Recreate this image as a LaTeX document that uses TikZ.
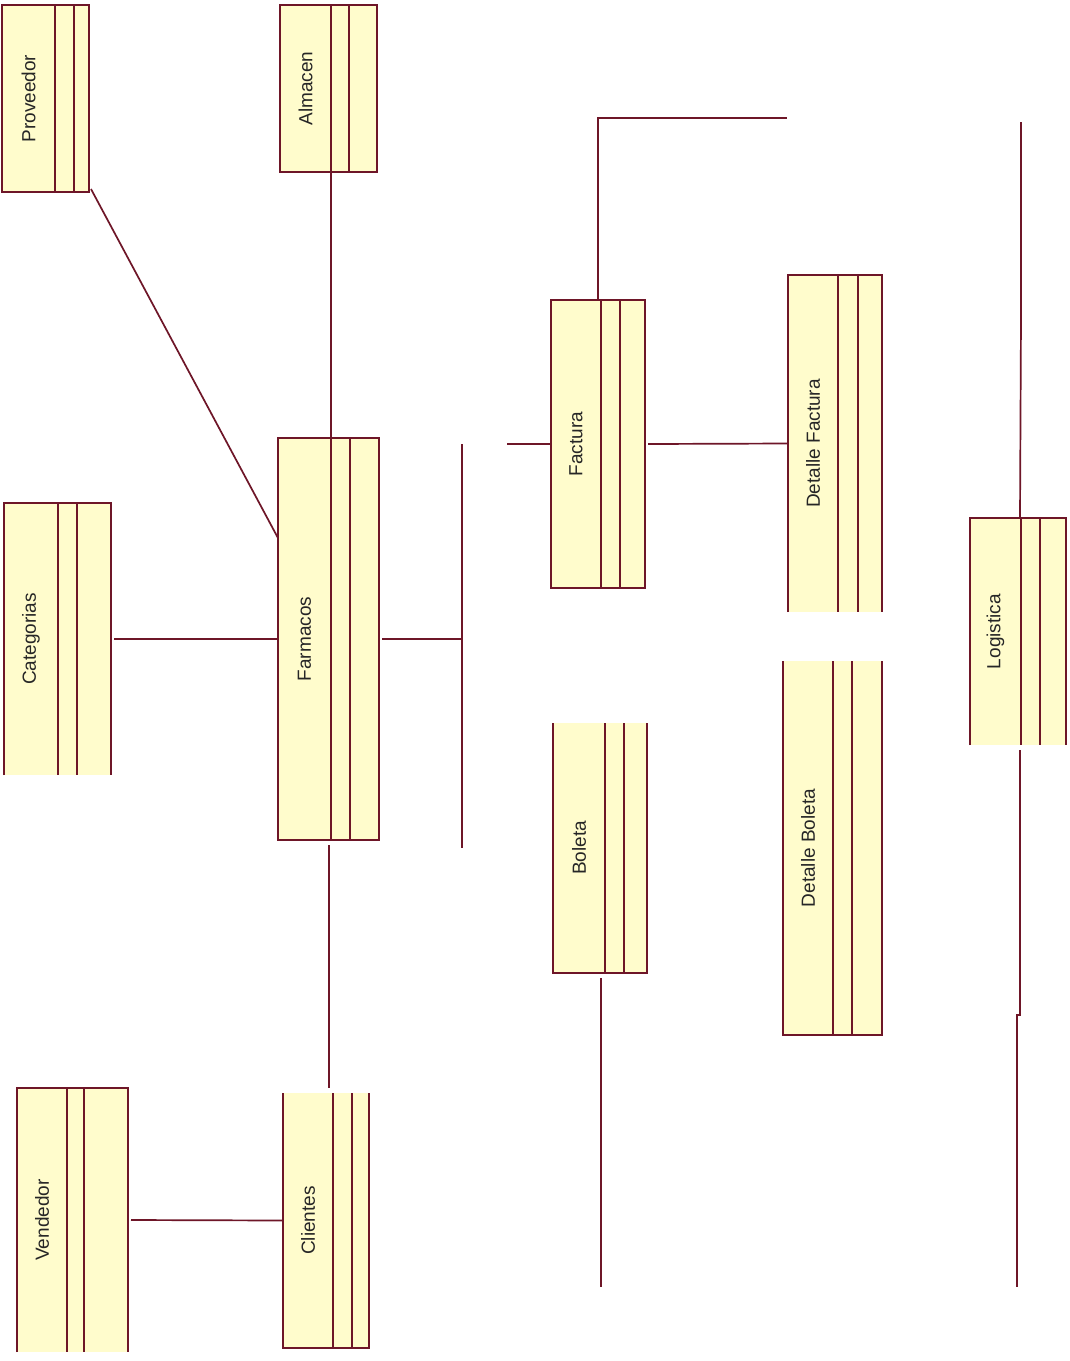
\documentclass[tikz,border=0pt]{standalone}
\usepackage{fontspec}
\setmainfont{Liberation Sans}
\usetikzlibrary{calc}
\definecolor{clsfill}{RGB}{255,252,204}
\definecolor{clsline}{RGB}{110,22,40}
\tikzset{
  cl/.style={draw=clsline, line width=1.7pt},
  clsbody/.style={fill=clsfill, draw=none, inner sep=0pt, outer sep=0pt},
  lbl/.style={rotate=90, inner sep=0pt, font=\fontsize{19}{19}\selectfont, text=black!85}
}
% name, x1, y1, x2, y2, inner offset 1, inner offset 2, label
\newcommand\clsnode[8]{%
  \node[clsbody, minimum width={#4pt-#2pt}, minimum height={#5pt-#3pt}] (#1) at ({(#2+#4)/2},{(#3+#5)/2}) {};
  \draw[cl] ([xshift=#6pt]#1.north west) -- ([xshift=#6pt]#1.south west);
  \draw[cl] ([xshift=#7pt]#1.north west) -- ([xshift=#7pt]#1.south west);
  \node[lbl] (#1-t) at ({(#2+#2+#6)/2},{(#3+#5)/2}) {#8};
}
\begin{document}
\begin{tikzpicture}[x=1pt,y=-1pt]
\fill[white] (0,0) rectangle (1069,1361);
\useasboundingbox (0,0) rectangle (1069,1361);

% classes
\clsnode{prov}{2}{5}{89}{192}{53}{72}{Proveedor}
\draw[cl] (prov.north west) rectangle (prov.south east);
\clsnode{alm}{280}{5}{377}{172}{51}{69}{Almacen}
\draw[cl] (alm.north west) rectangle (alm.south east);
\clsnode{cat}{4}{503}{111}{775}{54}{73}{Categorias}
\draw[cl] (cat.south west) -- (cat.north west) -- (cat.north east) -- (cat.south east);
\clsnode{farm}{278}{438}{379}{840}{53}{72}{Farmacos}
\draw[cl] (farm.north west) rectangle (farm.south east);
\clsnode{ven}{17}{1088}{128}{1352}{50}{67}{Vendedor}
\draw[cl] (ven.south west) -- (ven.north west) -- (ven.north east) -- (ven.south east);
\clsnode{cli}{283}{1093}{369}{1348}{50}{69}{Clientes}
\draw[cl] (cli.north west) -- (cli.south west) -- (cli.south east) -- (cli.north east);
\clsnode{fac}{551}{300}{645}{588}{50}{69}{Factura}
\draw[cl] (fac.north west) rectangle (fac.south east);
\clsnode{dfac}{788}{275}{882}{612}{50}{70}{Detalle Factura}
\draw[cl] (dfac.south west) -- (dfac.north west) -- (dfac.north east) -- (dfac.south east);
\clsnode{bol}{553}{723}{647}{973}{52}{71}{Boleta}
\draw[cl] (bol.north west) -- (bol.south west) -- (bol.south east) -- (bol.north east);
\clsnode{dbol}{783}{661}{882}{1035}{50}{69}{Detalle Boleta}
\draw[cl] (dbol.north west) -- (dbol.south west) -- (dbol.south east) -- (dbol.north east);
\clsnode{log}{970}{518}{1066}{745}{51}{70}{Logistica}
\draw[cl] (log.south west) -- (log.north west) -- (log.north east) -- (log.south east);

% free ends
\coordinate (fj) at (462,639);
\coordinate (fjt) at (462,444);
\coordinate (fjb) at (462,848);
\coordinate (facl) at (507,444);
\coordinate (fact) at (787,118);
\coordinate (bolb) at (601,1287);
\coordinate (logt) at (1021,122);
\coordinate (logtm) at (1021,318);
\coordinate (logbm) at (1020,1015);
\coordinate (logb) at (1017,1287);
\coordinate (clij) at (329,0);

% connectors
\draw[cl] ([shift={(2pt,3pt)}]prov.south east) -- ($(farm.north west)+(0,100)$);
\draw[cl] ([xshift=51pt]alm.south west) -- ([xshift=51pt]alm.south west |- farm.north);
\draw[cl] ([xshift=3pt]cat.east) -- (farm.west);
\draw[cl] ([xshift=3pt]farm.east) -- (fj);
\draw[cl] (fjt) -- (fjb);
\draw[cl] ([yshift=-5pt]farm.south -| clij) -- ([yshift=5pt]cli.north -| clij);
\draw[cl] ([xshift=3pt]ven.east) -- (cli.west);
\draw[cl] (facl) -- (fac.west);
\draw[cl] (fac.north -| 598,0) |- (fact);
\draw[cl] ([xshift=3pt]fac.east) -- (dfac.west);
\draw[cl] ([yshift=-5pt]bol.south -| bolb) -- (bolb);
\draw[cl] (logt) -- (logtm) -- ([xshift=50pt]log.north west);
\draw[cl] ([shift={(50pt,-5pt)}]log.south west) -- (logbm) -- (logbm -| logb) -- (logb);
\end{tikzpicture}
\end{document}
